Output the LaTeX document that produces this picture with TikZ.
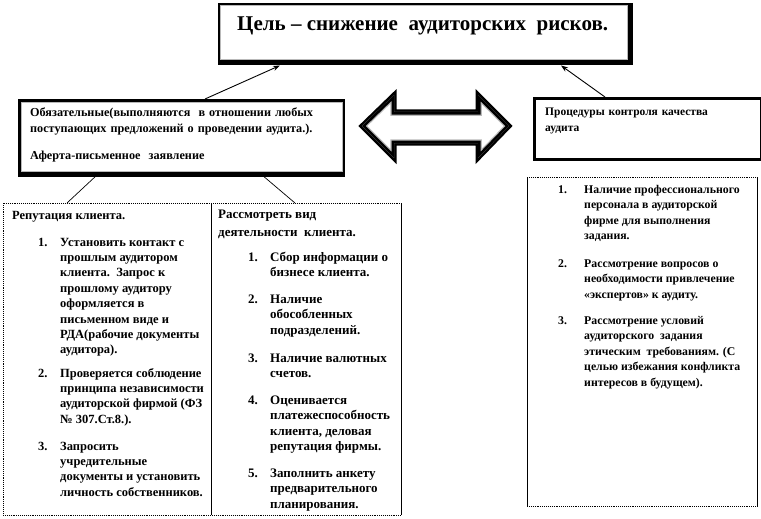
\documentclass[tikz,border=0pt]{standalone}
\usepackage{fontspec}
\setmainfont{Liberation Serif}
\usetikzlibrary{calc,arrows.meta}
\begin{document}
\begin{tikzpicture}[x=1pt,y=-1pt,
  bigbox/.style={draw, line width=2.5pt, anchor=north west, inner sep=0},
  plain/.style={anchor=north west, inner sep=0},
  txt/.style={font=\bfseries\fontsize{12.2}{15.8}\selectfont, anchor=base west, inner sep=0, align=left, text width=330pt},
  itm/.style={font=\bfseries\fontsize{12.5}{15.4}\selectfont, anchor=base west, inner sep=0},
  itmm/.style={font=\bfseries\fontsize{13}{15.6}\selectfont, anchor=base west, inner sep=0},
  itmr/.style={font=\bfseries\fontsize{11.8}{15.6}\selectfont, anchor=base west, inner sep=0},
  edge/.style={line width=0.9pt},
  dotedge/.style={line width=0.9pt, densely dotted},
  conn/.style={line width=0.7pt},
  arr/.style={line width=0.9pt, -{Stealth[length=7pt,width=5pt]}}
]
\useasboundingbox (0,0) rectangle (761,519);

% goal box
\node[bigbox, minimum width=410pt, minimum height=57pt] (goal) at (218,3) {};
\draw[line width=4.5pt] (goal.south west) -- (goal.south east) -- (goal.north east);
\draw[gray!55, line width=0.8pt] ($(goal.north west)+(2.6,2.6)$) rectangle ($(goal.south east)+(-3.4,-3.4)$);
\node[font=\bfseries\fontsize{21}{24}\selectfont, anchor=base west, inner sep=0] (goaltxt) at (237,31) {Цель – снижение\ \ аудиторских\ \ рисков.};

% obligatory box
\node[bigbox, line width=3pt, minimum width=324pt, minimum height=73pt] (oblig) at (18,99) {};
\draw[line width=4.5pt] (oblig.south west) -- (oblig.south east);
\draw[gray!55, line width=0.7pt] ($(oblig.north west)+(3,3)$) rectangle ($(oblig.south east)+(-3,-3.5)$);
\node[txt] (obligtxt) at (30,117) {Обязательные(выполняются\ \ в отношении любых\\поступающих предложений о проведении аудита.).};
\node[txt] (oferta) at (30,159) {Аферта-письменное\ \ заявление};

% procedures box
\node[bigbox, line width=2.8pt, minimum width=227pt, minimum height=61pt] (proc) at (533,97) {};
\node[txt, font=\bfseries\fontsize{11.5}{16}\selectfont, text width=200pt] (proctxt) at (545,116) {Процедуры контроля качества\\аудита};

% double arrow
\def\dblarrow{(362,126) -- (394,95) -- (394,112) -- (478,112) -- (478,95) -- (509,126) -- (478,158) -- (478,143) -- (394,143) -- (394,158) -- cycle}
\draw[line width=5pt, fill=white, line join=miter] \dblarrow;
\begin{scope}
  \clip \dblarrow;
  \draw[gray!55, line width=7.5pt, line join=miter] \dblarrow;
  \draw[black, line width=5pt, line join=miter] \dblarrow;
\end{scope}

% lower left box
\node[plain, minimum width=398pt, minimum height=312pt] (rep) at (3,203) {};
\draw[dotedge] (rep.south west) -- (rep.north west) -- (rep.north east);
\draw[edge] (rep.north east) -- (rep.south east);
\draw[dotedge] (rep.south west) -- (rep.south east);
\coordinate (divtop) at ($(rep.north west)+(208,0)$);
\coordinate (divbot) at ($(rep.south west)+(208,0)$);
\draw[edge] (divtop) -- (divbot);

% right lower box
\node[plain, minimum width=230pt, minimum height=329pt] (qc) at (527,177) {};
\draw[dotedge] (qc.north west) -- (qc.north east);
\draw[edge] (qc.north west) -- (qc.south west);
\draw[edge] (qc.north east) -- (qc.south east);
\draw[dotedge] (qc.south west) -- (qc.south east);

% connectors
\coordinate (oa) at ($(oblig.north west)+(187,0)$);
\coordinate (ga) at ($(goal.south west)+(62,3)$);
\draw[arr] (oa) -- (ga);
\coordinate (pa) at ($(proc.north west)+(72,0)$);
\coordinate (gb) at ($(goal.south west)+(343,3)$);
\draw[arr] (pa) -- (gb);
\coordinate (ob1) at ($(oblig.south west)+(79,0)$);
\coordinate (rt1) at ($(rep.north west)+(64,0)$);
\draw[conn] (ob1) -- (rt1);
\coordinate (ob2) at ($(oblig.south west)+(244,0)$);
\coordinate (rt2) at ($(rep.north west)+(292,0)$);
\draw[conn] (ob2) -- (rt2);

% left column
\node[itm] (h1) at (12,219) {Репутация клиента.};
\node[itm] (l1) at (38,246) {\begin{tabular}[t]{@{}p{22pt}@{}l@{}}1.&Установить контакт с\\&прошлым аудитором\\&клиента.\ \ Запрос к\\&прошлому аудитору\\&оформляется в\\&письменном виде и\\&РДА(рабочие документы\\&аудитора).\end{tabular}};
\node[itm] (l2) at (38,377) {\begin{tabular}[t]{@{}p{22pt}@{}l@{}}2.&Проверяется соблюдение\\&принципа независимости\\&аудиторской фирмой (ФЗ\\&№ 307.Ст.8.).\end{tabular}};
\node[itm] (l3) at (38,450) {\begin{tabular}[t]{@{}p{22pt}@{}l@{}}3.&Запросить\\&учредительные\\&документы и установить\\&личность собственников.\end{tabular}};

% middle column
\node[itmm] (h2) at (218,218) {\begin{tabular}[t]{@{}l@{}}Рассмотреть вид\\[3pt]деятельности\ \ клиента.\end{tabular}};
\node[itmm] (m1) at (248,261) {\begin{tabular}[t]{@{}p{22pt}@{}l@{}}1.&Сбор информации о\\&бизнесе клиента.\end{tabular}};
\node[itmm] (m2) at (248,303) {\begin{tabular}[t]{@{}p{22pt}@{}l@{}}2.&Наличие\\&обособленных\\&подразделений.\end{tabular}};
\node[itmm] (m3) at (248,362) {\begin{tabular}[t]{@{}p{22pt}@{}l@{}}3.&Наличие валютных\\&счетов.\end{tabular}};
\node[itmm] (m4) at (248,404) {\begin{tabular}[t]{@{}p{22pt}@{}l@{}}4.&Оценивается\\&платежеспособность\\&клиента, деловая\\&репутация фирмы.\end{tabular}};
\node[itmm] (m5) at (248,477) {\begin{tabular}[t]{@{}p{22pt}@{}l@{}}5.&Заполнить анкету\\&предварительного\\&планирования.\end{tabular}};

% right column
\node[itmr] (q1) at (558,193) {\begin{tabular}[t]{@{}p{26pt}@{}l@{}}1.&Наличие профессионального\\&персонала в аудиторской\\&фирме для выполнения\\&задания.\end{tabular}};
\node[itmr] (q2) at (558,267) {\begin{tabular}[t]{@{}p{26pt}@{}l@{}}2.&Рассмотрение вопросов о\\&необходимости привлечение\\&«экспертов» к аудиту.\end{tabular}};
\node[itmr] (q3) at (558,324) {\begin{tabular}[t]{@{}p{26pt}@{}l@{}}3.&Рассмотрение условий\\&аудиторского\ \ задания\\&этическим\ \ требованиям. (С\\&целью избежания конфликта\\&интересов в будущем).\end{tabular}};
\end{tikzpicture}
\end{document}
